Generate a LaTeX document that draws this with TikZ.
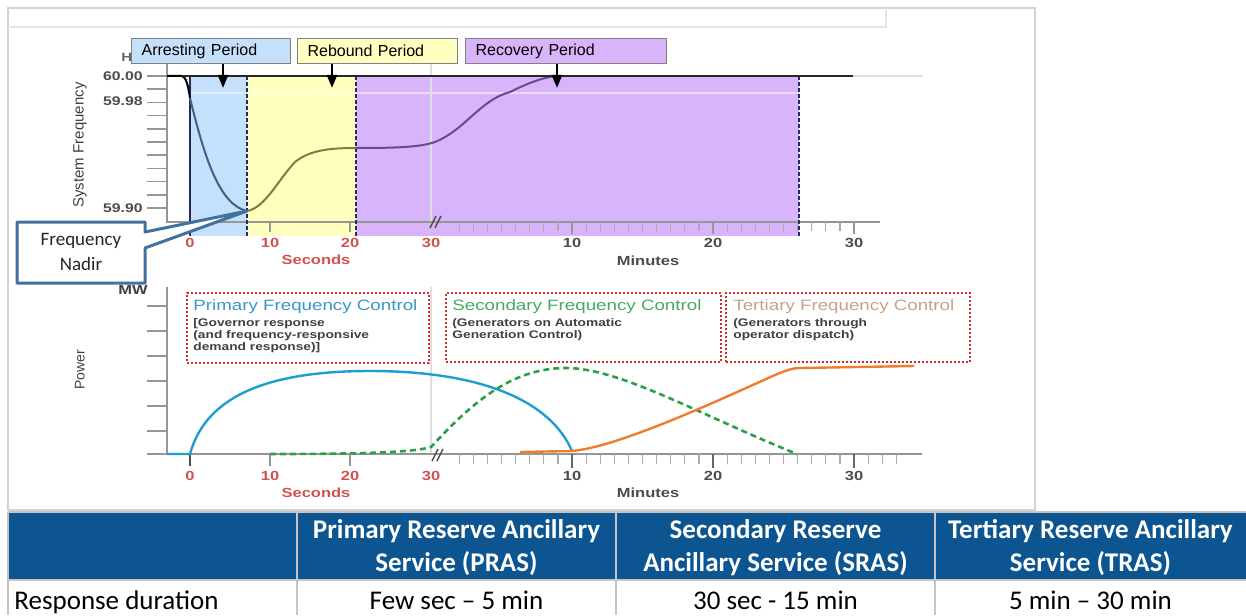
\documentclass[tikz,border=0pt]{standalone}
\usepackage{fontspec}
\setmainfont{Liberation Sans}
\newfontfamily\wideface{Liberation Sans}[FakeStretch=1.25]
\newfontfamily\calface{Carlito}
\usepackage{tikz}
\usetikzlibrary{arrows.meta,positioning}
\definecolor{arrestblue}{RGB}{197,224,250}
\definecolor{reboundyellow}{RGB}{255,255,192}
\definecolor{recoverypurple}{RGB}{216,180,250}
\definecolor{edgenavy}{RGB}{40,40,100}
\definecolor{arrestcurve}{RGB}{61,96,140}
\definecolor{reboundcurve}{RGB}{125,125,60}
\definecolor{recoverycurve}{RGB}{105,75,140}
\definecolor{nadirblue}{RGB}{65,113,156}
\definecolor{primblue}{RGB}{30,158,206}
\definecolor{secgreen}{RGB}{44,160,72}
\definecolor{tertorange}{RGB}{238,125,45}
\definecolor{dotred}{RGB}{216,40,40}
\definecolor{seclabel}{RGB}{210,80,80}
\definecolor{headblue}{RGB}{12,85,144}
\definecolor{primtitle}{RGB}{58,150,200}
\definecolor{sectitle}{RGB}{72,168,96}
\definecolor{terttitle}{RGB}{200,160,136}
\definecolor{axisgray}{RGB}{150,150,150}
\tikzset{axisline/.style={axisgray, line width=.8pt}}
\tikzset{minortick/.style={axisgray!80, line width=.6pt}}
\tikzset{lightrule/.style={gray!25, line width=.6pt}}
\tikzset{breakmark/.style={black!70, line width=.7pt}}
\tikzset{edgedash/.style={edgenavy, line width=.8pt, dash pattern=on 2pt off 1pt}}
\tikzset{periodbox/.style={draw=gray, line width=.6pt, anchor=north west, minimum height=12.5pt,
    inner xsep=5pt, inner ysep=0pt, align=left, font=\fontsize{8}{9}\selectfont}}
\tikzset{periodarrow/.style={line width=1.3pt, -{Triangle[width=5pt,length=6.5pt]}}}
\tikzset{ylbl/.style={anchor=base east, inner sep=0pt, text=black!70, font=\wideface\bfseries\fontsize{6.3}{7}\selectfont}}
\tikzset{seclbl/.style={anchor=base, inner sep=0pt, text=seclabel, font=\wideface\bfseries\fontsize{6.6}{7}\selectfont}}
\tikzset{minlbl/.style={anchor=base, inner sep=0pt, text=black!70, font=\wideface\bfseries\fontsize{6.6}{7}\selectfont}}
\tikzset{unitlbl/.style={anchor=base, inner sep=0pt, font=\wideface\bfseries\fontsize{6.6}{7}\selectfont}}
\tikzset{dotbox/.style={draw=dotred, line width=1pt, dash pattern=on 1pt off 1pt, anchor=north west, inner sep=0pt}}
\tikzset{boxtitle/.style={anchor=base west, inner sep=0pt, font=\wideface\fontsize{7.5}{9}\selectfont}}
\tikzset{boxnote/.style={anchor=north west, inner sep=0pt, align=left, text=black!75,
    font=\wideface\bfseries\fontsize{5.5}{6}\selectfont}}
\tikzset{tablerule/.style={gray!45, line width=1pt}}
\tikzset{headcell/.style={text=white, align=center, inner sep=0pt, font=\calface\bfseries\fontsize{13.5}{16.5}\selectfont}}
\tikzset{bodycell/.style={anchor=base, inner sep=0pt, font=\calface\fontsize{13.5}{16}\selectfont}}

\begin{document}
\begin{tikzpicture}[x=0.5pt,y=-0.5pt]
\useasboundingbox (0,0) rectangle (1246,615);
\draw[gray!35, line width=1pt] (8,8) rectangle (1035,510);
\draw[gray!20, line width=.6pt] (8,27) -- (886,27) -- (886,8);

% frequency chart
\fill[arrestblue] (190,76) rectangle (247,236);
\fill[reboundyellow] (247,76) rectangle (356,236);
\fill[recoverypurple] (356,76) rectangle (799,236);
\draw[white, opacity=.5, line width=1pt] (190,93) -- (799,93);
\draw[lightrule] (431,63) -- (431,222);
\draw[axisline] (167,63) -- (167,222) -- (880,222);
\foreach \k in {0,...,10} \draw[axisline] (147,76+13.2*\k) -- (167,76+13.2*\k);
\foreach \x in {270,350} \draw[axisline] (\x,222) -- (\x,232);
\foreach \m in {2,...,30} \draw[minortick] (431+14.1*\m,222) -- (431+14.1*\m,231);
\foreach \m in {10,20,30} \draw[axisline] (431+14.1*\m,222) -- (431+14.1*\m,234);
\draw[breakmark] (430,228) -- (436,216) (435,228) -- (441,216);
\draw[edgenavy, line width=.8pt] (190,76) -- (190,236);
\foreach \x in {247,356,799} \draw[edgedash] (\x,76) -- (\x,236);
\draw[black, line width=1pt] (167,76) -- (182,76) .. controls (186,77) and (188,85) .. (190,98);
\draw[arrestcurve, line width=1pt] (190,98) .. controls (205,160) and (220,205) .. (247,211);
\draw[reboundcurve, line width=1pt] (247,211) .. controls (265,208) and (278,180) .. (295,162)
  .. controls (310,150) and (330,148) .. (356,148);
\draw[recoverycurve, line width=1pt] (356,148) .. controls (400,148) and (420,147) .. (435,142)
  .. controls (465,130) and (480,100) .. (510,92) .. controls (530,82) and (545,77) .. (557,76);
\draw[black!85, line width=1pt] (182,76) -- (853,76);
\draw[lightrule] (853,76) -- (923,76);

\node[anchor=base west, inner sep=0pt, text=black!60, font=\wideface\bfseries\fontsize{6}{7}\selectfont] (hz) at (121,62) {Hz};
\node[periodbox, fill=arrestblue, text width=69.5pt] (arrest) at (131,38) {Arresting Period};
\node[periodbox, fill=reboundyellow, text width=70pt] (rebound) at (297,38) {Rebound Period};
\node[periodbox, fill=recoverypurple, text width=90.5pt] (recovery) at (465,38) {Recovery Period};
\coordinate (arresttip) at (223,88);
\coordinate (reboundtip) at (332,88);
\coordinate (recoverytip) at (557,88);
\draw[periodarrow] (arrest.south -| arresttip) -- (arresttip);
\draw[periodarrow] (rebound.south -| reboundtip) -- (reboundtip);
\draw[periodarrow] (recovery.south -| recoverytip) -- (recoverytip);

\node[ylbl] (f60) at (143,80.5) {60.00};
\node[ylbl] (f5998) at (143,105.5) {59.98};
\node[ylbl] (f5990) at (143,212.5) {59.90};
\node[rotate=90, font=\fontsize{7.5}{8}\selectfont, text=black!75] (freqlbl) at (80,145) {System Frequency};
\foreach \s/\x in {0/190,10/270,20/350,30/431} \node[seclbl] (tsec\s) at (\x,247.5) {\s};
\foreach \m in {10,20,30} \node[minlbl] (tmin\m) at (431+14.1*\m,247.5) {\m};
\node[unitlbl, text=seclabel] (tseconds) at (316,264) {Seconds};
\node[unitlbl, text=black!70] (tminutes) at (648,265) {Minutes};

% power chart
\draw[lightrule] (431,287) -- (431,454);
\draw[axisline] (167,287) -- (167,454);
\draw[axisline] (147,454) -- (922,454);
\foreach \k in {0,...,5} \draw[axisline] (147,306+25*\k) -- (167,306+25*\k);
\draw[black!70, line width=.8pt] (190,454) -- (190,466);
\foreach \x in {270,350} \draw[axisline] (\x,454) -- (\x,466);
\foreach \m in {2,...,33} \draw[minortick] (431+14.1*\m,454) -- (431+14.1*\m,464);
\foreach \m in {10,20,30} \draw[black!60, line width=.8pt] (431+14.1*\m,454) -- (431+14.1*\m,468);
\draw[breakmark] (432,461) -- (438,449) (437,461) -- (443,449);
\node[unitlbl, anchor=base west, text=black!75] (mw) at (118,294) {MW};
\node[rotate=90, font=\fontsize{7}{8}\selectfont, text=black!75] (powerlbl) at (80,370) {Power};

\draw[primblue, line width=1.2pt] (167,454) -- (190,454) .. controls (205,400) and (260,371) .. (370,371)
  .. controls (480,371) and (550,400) .. (572,451);
\draw[secgreen, line width=1.3pt, dash pattern=on 3pt off 2pt] (270,454) .. controls (350,454) and (412,453) .. (431,447)
  .. controls (470,405) and (510,368) .. (566,368) .. controls (620,368) and (700,415) .. (797,454);
\draw[tertorange, line width=1.2pt] (520,452) -- (572,451) .. controls (620,447) and (730,395) .. (775,375)
  .. controls (787,370) and (793,368) .. (800,368) -- (914,366);

\node[dotbox, minimum width=121pt, minimum height=35pt] (pfc) at (186,292) {};
\node[dotbox, minimum width=137.5pt, minimum height=34.5pt] (sfc) at (445,292) {};
\node[dotbox, minimum width=122pt, minimum height=34.5pt] (tfc) at (725,292) {};
\node[boxtitle, text=primtitle] (pfctitle) at (193,310.5) {Primary Frequency Control};
\node[boxtitle, text=sectitle] (sfctitle) at (452,310.5) {Secondary Frequency Control};
\node[boxtitle, text=terttitle] (tfctitle) at (733,310.5) {Tertiary Frequency Control};
\node[boxnote] (pfcnote) at (193,318) {[Governor response\\(and frequency-responsive\\demand response)]};
\node[boxnote] (sfcnote) at (452,318) {(Generators on Automatic\\Generation Control)};
\node[boxnote] (tfcnote) at (733,318) {(Generators through\\operator dispatch)};
\foreach \s/\x in {0/190,10/270,20/350,30/431} \node[seclbl] (bsec\s) at (\x,480.5) {\s};
\foreach \m in {10,20,30} \node[minlbl] (bmin\m) at (431+14.1*\m,480.5) {\m};
\node[unitlbl, text=seclabel] (bseconds) at (316,497) {Seconds};
\node[unitlbl, text=black!70] (bminutes) at (648,497) {Minutes};

% nadir callout
\draw[nadirblue, fill=white, line width=1.5pt, line join=round] (17,222) -- (145,222) -- (145,232) -- (247,211)
  -- (145,248) -- (145,283) -- (17,283) -- cycle;
\node[align=center, text=black!85, font=\calface\fontsize{9.5}{12.5}\selectfont] (nadir) at (81,252) {Frequency\\Nadir};

% table
\fill[headblue] (8,512) rectangle (1246,580);
\draw[tablerule] (8,512) -- (1246,512) (8,580) -- (1246,580);
\foreach \x in {8,297,616,935} \draw[tablerule] (\x,512) -- (\x,615);
\node[headcell] (pras) at (456.5,547.5) {Primary Reserve Ancillary\\Service (PRAS)};
\node[headcell] (sras) at (775.5,547.5) {Secondary Reserve\\Ancillary Service (SRAS)};
\node[headcell] (tras) at (1090.5,547.5) {Tertiary Reserve Ancillary\\Service (TRAS)};
\node[bodycell, anchor=base west] (resp) at (14,609) {Response duration};
\node[bodycell] (prasdur) at (456.5,609) {Few sec – 5 min};
\node[bodycell] (srasdur) at (775.5,609) {30 sec - 15 min};
\node[bodycell] (trasdur) at (1090.5,609) {5 min – 30 min};
\end{tikzpicture}
\end{document}
